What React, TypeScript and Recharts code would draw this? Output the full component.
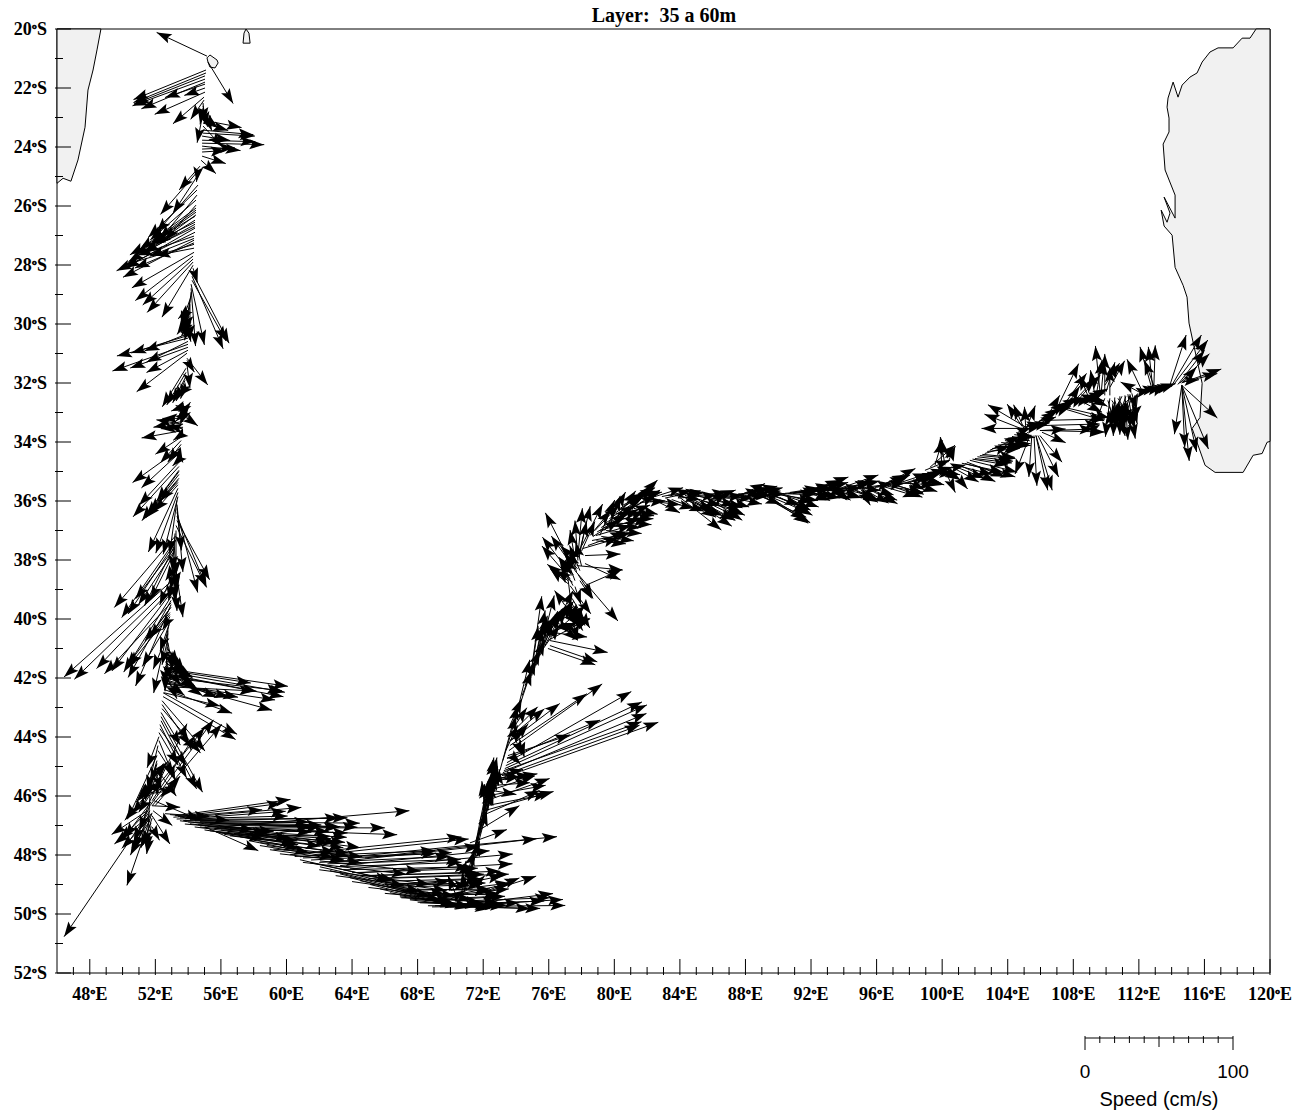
import { ScatterChart, Scatter, XAxis, YAxis } from "recharts";

// [lon E, lat S, u east cm/s, v north cm/s]
type Vec = [number, number, number, number];

const lonTicks = Array.from({ length: 74 }, (_, i) => 47 + i);
const latTicks = Array.from({ length: 33 }, (_, i) => 20 + i);
const speedTicks = [0, 10, 20, 30, 40, 50, 60, 70, 80, 90, 100];

const westCoast = [[48.68, 20], [48.44, 20.71], [48.2, 21.39], [47.89, 22.07], [47.71, 23.33], [47.28, 24.44], [46.85, 25.16], [46.37, 25.06], [46, 25.23], [46, 20], [48.68, 20]];
const islet = [[57.35, 20.48], [57.78, 20.48], [57.71, 20.14], [57.53, 20], [57.41, 20.14], [57.35, 20.48]];
const reunion = [[55.15, 20.98], [55.33, 20.88], [55.76, 21.05], [55.83, 21.15], [55.64, 21.32], [55.33, 21.29], [55.21, 21.12], [55.15, 20.98]];
const eastCoast = [[119.15, 20], [118.78, 20.31], [118.3, 20.31], [117.75, 20.64], [116.83, 20.64], [116.34, 20.78], [115.86, 21.12], [115.55, 21.49], [115.12, 21.63], [114.64, 21.9], [114.39, 22.31], [114.09, 21.8], [113.78, 22.34], [113.72, 22.65], [113.84, 23.02], [113.84, 23.49], [113.48, 23.9], [113.6, 24.78], [114.21, 25.63], [114.21, 26.41], [113.54, 25.7], [113.9, 26.24], [113.72, 26.55], [113.36, 26.14], [113.54, 26.68], [114.03, 26.99], [114.21, 28.08], [114.7, 28.69], [114.94, 29.09], [115.06, 29.97], [115.31, 30.62], [115.86, 32.01], [115.73, 33.17], [115.25, 33.54], [116.04, 34.79], [116.65, 35.03], [118.36, 35.03], [118.97, 34.45], [119.52, 34.39], [119.82, 34.01], [120, 33.98], [120, 20], [119.15, 20]];

const leg22S: Vec[] = [
  [55.15, 20.92, -34, 16], [55.21, 21.12, 17, -28], [55.09, 21.39, -49, -20], [55.09, 21.49, -49, -20],
  [55.03, 21.59, -48, -19], [55.03, 21.7, -49, -18], [55.03, 21.8, -43, -18], [55.03, 21.87, -27, -9],
  [55.03, 22, -14, -5], [55.03, 22.14, -34, -15], [54.97, 22.31, -21, -18], [54.97, 22.41, -9, -13],
];
const leg24S: Vec[] = [
  [54.91, 22.51, 1, -13], [54.91, 22.61, 3, -14], [54.91, 22.68, -2, -11], [54.91, 22.75, 6, -14],
  [54.91, 22.85, -4, -20], [54.91, 22.95, 10, -8], [54.91, 23.09, 26, -5], [54.91, 23.19, 17, -5],
  [54.91, 23.29, 13, -14], [54.91, 23.43, 34, -3], [54.91, 23.53, 35, -2], [54.85, 23.63, 19, -3],
  [54.85, 23.77, 36, -1], [54.85, 23.87, 42, -1], [54.85, 23.97, 26, -3], [54.85, 24.07, 22, 1],
  [54.85, 24.17, 16, 1], [54.85, 24.31, 16, -5], [54.79, 24.45, 10, -9],
];
const leg27S: Vec[] = [
  [54.72, 24.65, -14, -16], [54.66, 24.78, -26, -30], [54.6, 24.95, -17, -26], [54.6, 24.78, -1, -8],
  [54.6, 25.29, -28, -32], [54.54, 25.46, -33, -32], [54.54, 25.63, -25, -30], [54.48, 25.8, -31, -27],
  [54.48, 25.97, -21, -24], [54.48, 26.07, -38, -28], [54.48, 26.21, -41, -29], [54.42, 26.35, -44, -26],
  [54.42, 26.48, -45, -28], [54.42, 26.62, -34, -19], [54.42, 26.75, -47, -27], [54.42, 26.89, -53, -26],
  [54.36, 27.02, -38, -13], [54.36, 27.16, -48, -25], [54.36, 27.3, -47, -14], [54.36, 27.43, -26, -5],
  [54.36, 27.57, -42, -24], [54.3, 27.7, -39, -30], [54.3, 27.8, -34, -31], [54.3, 27.9, -31, -34],
  [54.3, 28.01, -21, -35], [54.3, 28.11, 3, -10], [54.42, 26.55, -30, -15], [54.42, 26.7, -35, -17],
  [54.36, 27.1, -30, -12], [54.36, 27.25, -40, -17], [54.48, 26.3, -27, -20], [54.48, 26.14, -30, -22],
];
const leg30S: Vec[] = [
  [54.24, 28.24, 25, -48], [54.24, 28.38, 21, -49], [54.24, 28.52, 23, -41], [54.18, 28.65, 9, -41],
  [54.18, 28.79, 3, -39], [54.18, 28.92, -3, -26], [54.18, 29.06, -7, -20], [54.11, 29.2, -4, -24],
  [54.11, 29.33, 0, -24], [54.11, 29.47, -8, -7], [54.05, 30.31, -30, -12], [54.05, 30.38, -39, -12],
  [53.99, 30.48, -48, -12], [53.99, 30.59, -28, -14], [53.99, 30.69, -51, -18], [53.99, 30.79, -39, -14],
  [53.99, 30.89, -28, -15], [53.93, 30.99, -34, -26], [54.11, 29.6, -6, -14], [54.05, 29.75, -8, -12],
  [54.05, 29.9, -5, -10], [54.05, 30.05, -3, -10], [53.99, 30.2, 2, -8],
];
const leg33S: Vec[] = [
  [53.93, 31.16, 14, -18], [53.93, 31.23, 5, -8], [53.93, 31.37, 2, -16], [53.87, 31.5, -16, -26],
  [53.87, 31.64, -13, -22], [53.87, 31.77, -9, -18], [53.81, 31.91, -6, -14], [53.81, 32.08, -3, -9],
  [53.75, 32.25, -4, -4], [53.69, 32.86, -5, 2], [53.69, 32.93, 0, 5], [53.69, 33, 5, 7],
  [53.69, 33.1, 10, -7], [53.69, 33.2, -14, 0], [53.69, 33.3, -20, -4], [53.69, 33.4, -18, 3],
  [53.69, 33.5, -15, -1], [53.69, 33.61, -28, -5], [53.63, 33.74, -6, -4], [53.63, 33.81, -18, -12],
  [53.69, 33.05, -5, -5], [53.69, 33.15, 5, 3], [53.63, 33.55, -10, 2], [53.69, 32.8, -8, -3],
];
const leg35S: Vec[] = [
  [53.57, 33.95, -14, -15], [53.57, 34.08, -9, -12], [53.5, 34.22, -32, -23], [53.5, 34.35, -26, -24],
  [53.5, 34.49, 2, -4], [53.5, 34.56, -5, -5], [53.44, 34.69, -27, -29], [53.44, 34.83, -31, -34],
  [53.44, 34.96, -25, -34], [53.44, 35.1, -22, -28], [53.44, 35.23, -20, -23], [53.38, 35.37, -22, -24],
  [53.38, 35.57, -20, -43], [53.38, 35.71, -15, -41], [53.38, 35.85, -10, -39], [53.32, 35.98, -5, -36],
  [53.32, 36.12, 3, -31], [53.32, 36.25, 4, -43], [53.32, 36.39, 14, -54], [53.32, 36.52, 20, -48],
  [53.32, 36.66, 22, -40], [53.26, 36.83, 20, -41], [53.44, 35, -15, -20], [53.38, 35.3, -12, -14],
  [53.38, 35.45, -16, -18],
];
const leg39S: Vec[] = [
  [53.2, 37.2, -41, -48], [53.2, 37.34, -36, -52], [53.14, 37.47, -31, -47], [53.14, 37.61, -26, -34],
  [53.14, 37.75, -16, -32], [53.14, 37.88, 6, -41], [53.14, 38.02, 2, -34], [53.08, 38.15, 3, -18],
  [53.08, 38.29, -5, -8], [53.08, 38.42, -9, -22], [53.08, 38.56, -3, -16], [53.26, 37, 0, -30],
  [53.2, 37.1, -2, -25], [53.14, 37.4, 2, -30], [53.14, 37.9, -2, -22], [53.08, 38.1, 1, -25],
  [53.08, 38.35, 2, -20], [53.14, 37.55, -20, -40], [53.14, 37.7, -24, -36],
];
const leg41S: Vec[] = [
  [53.02, 38.7, -73, -65], [53.02, 38.83, -66, -64], [53.02, 38.97, -51, -54], [52.96, 39.1, -40, -53],
  [52.96, 39.24, -32, -51], [52.96, 39.37, -29, -52], [52.96, 39.51, -24, -55], [52.89, 39.65, -17, -22],
  [52.89, 39.78, -14, -17], [52.89, 39.92, -5, -9], [52.89, 40.05, -11, -49], [52.83, 40.19, -6, -18],
  [52.77, 40.39, -2, -41], [52.96, 39.6, -30, -40], [52.96, 39.45, -45, -48], [52.89, 39.85, -28, -35],
  [52.83, 40.1, -18, -30], [52.77, 40.5, -10, -24], [52.77, 40.65, -4, -18], [52.77, 40.8, 3, -18],
];
const leg42S: Vec[] = [
  [52.59, 41.68, 83, -12], [52.59, 41.78, 81, -14], [52.59, 41.88, 80, -15], [52.59, 41.98, 79, -9],
  [52.53, 42.09, 73, -20], [52.53, 42.19, 75, -11], [52.53, 42.29, 61, -3], [52.53, 42.39, 46, -16],
  [52.53, 42.5, 38, -9], [52.59, 41.72, 58, -9], [52.59, 41.85, 62, -12], [52.53, 42.15, 50, -10],
  [52.59, 41.3, 12, -12], [52.6, 41.45, 18, -14], [52.59, 41.6, 22, -16], [52.53, 41.7, 26, -18],
  [52.53, 41.95, 36, -14], [52.53, 42.05, 44, -12], [52.71, 41, 12, -16], [52.71, 41.14, 7, -9],
  [52.65, 41.27, 3, -16], [52.59, 41.68, 0, -11], [52.59, 41.82, 20, -9], [52.53, 42.09, 14, -10],
  [52.71, 40.95, 8, -12], [52.71, 41.2, 12, -10], [52.65, 41.4, 18, -12], [52.65, 41.5, 14, -8],
  [52.65, 41.55, 10, -14], [52.65, 41.65, 18, -6], [52.59, 41.8, 8, -18],
];
const leg45S: Vec[] = [
  [52.47, 42.5, 50, -28], [52.47, 42.63, 49, -29], [52.41, 42.77, 29, -34], [52.41, 42.9, 19, -28],
  [52.41, 43.04, 26, -30], [52.35, 43.17, 13, -22], [52.35, 43.31, 28, -51], [52.35, 43.45, 24, -46],
  [52.28, 43.58, 18, -36], [52.28, 43.72, 18, -25], [52.22, 43.85, 13, -22], [52.22, 43.99, -8, -21],
  [52.22, 44.12, 11, -27], [52.16, 44.29, -7, -30], [52.16, 44.46, 11, -17], [52.1, 44.63, -20, -43],
  [52.1, 44.8, -8, -27], [51.67, 46.33, 43, 58], [51.8, 46.33, 47, 55], [51.67, 46.16, 25, 52],
  [51.67, 45.99, 37, 46], [51.8, 46.16, 29, 44], [51.92, 46.16, 31, -13], [51.98, 46.33, 17, 20],
];
const leg47S: Vec[] = [
  [51.67, 46.5, -58, -85], [51.8, 46.57, -17, -49], [51.67, 46.67, -24, -19], [51.67, 46.77, -19, -20],
  [51.67, 46.84, -12, -18], [51.74, 46.91, -7, -17], [51.74, 47.01, -3, -19], [51.8, 47.05, 5, -9],
  [51.8, 46.67, 12, -19], [51.86, 46.5, 13, -10], [51.8, 46.33, 19, -1], [51.67, 45.82, -17, -20],
  [51.67, 46.16, -7, -20], [51.55, 46.5, -19, -20], [51.67, 46.33, -11, -24], [51.67, 45.99, -2, -37],
  [52.1, 44.9, -6, -22], [52.04, 45.1, -8, -20], [51.98, 45.3, -10, -16], [51.92, 45.5, -12, -14],
  [51.86, 45.7, -14, -18], [51.8, 45.85, -9, -14], [51.8, 45.95, 6, 10], [51.86, 45.6, 7, 14],
  [51.92, 45.35, 9, 10], [51.98, 45.1, 4, -14], [51.74, 46.2, -18, -24], [51.74, 46.6, -14, -28],
  [51.62, 46.6, -10, -24], [51.8, 46.75, -6, -18], [51.5, 46.5, -24, -16], [52.04, 44.95, -3, -12],
  [52.1, 45.1, 13, -18], [51.92, 45.9, 14, 2],
];
const legEast60: Vec[] = [
  [52.59, 46.6, 30, -2], [52.89, 46.63, 40, -4], [53.2, 46.67, 78, 11], [53.38, 46.7, 70, 9],
  [53.5, 46.74, 82, 7], [53.5, 46.84, 50, -6], [53.81, 46.77, 68, 5], [54.11, 46.8, 101, 1],
  [54.11, 46.94, 52, -7], [54.42, 46.84, 103, 2], [54.72, 46.87, 108, -1], [54.72, 47.05, 47, -4],
  [55.03, 46.91, 103, -3], [55.03, 47.05, 36, -16], [55.33, 46.94, 88, -2], [55.33, 47.18, 54, -5],
  [55.94, 47.05, 128, 11], [55.94, 47.25, 68, -9], [56.25, 47.08, 108, 0], [56.55, 47.11, 113, -4],
  [56.55, 47.35, 44, -5], [57.16, 47.18, 66, -8], [57.16, 47.38, 40, -8], [57.47, 47.25, 78, -10],
  [57.77, 47.31, 54, -1], [57.77, 47.52, 40, -8], [58.08, 47.38, 44, 7], [58.38, 47.68, 50, -8],
  [58.99, 47.82, 50, -7], [59.6, 47.96, 55, -6], [53.1, 46.72, 60, 5], [53.3, 46.78, 75, 2],
  [53.7, 46.83, 85, -1], [54, 46.88, 90, -2], [54.3, 46.9, 80, -3], [54.6, 46.97, 95, -2],
  [54.9, 47, 85, -4], [55.2, 47.03, 70, -4], [55.6, 47.1, 90, -3], [56, 47.15, 85, -5],
  [56.4, 47.2, 70, -5], [56.8, 47.27, 75, -6], [57.2, 47.3, 60, -6], [57.6, 47.4, 65, -7],
  [58, 47.5, 55, -8], [58.4, 47.58, 60, -7], [58.8, 47.68, 55, -7], [59.2, 47.8, 60, -5],
  [53.8, 46.95, 60, -5], [54.4, 47.05, 65, -8], [55, 47.15, 40, -6], [55.7, 47.22, 55, -6],
  [56.2, 47.3, 50, -7],
];
const legEast66: Vec[] = [
  [60.2, 47.99, 116, 12], [60.82, 48.06, 114, 12], [64.49, 48.03, 133, 13], [64.79, 48.1, 116, 13],
  [62.65, 48.26, 101, 11], [63.27, 48.36, 101, 10], [63.87, 48.47, 110, 10], [64.49, 48.6, 103, 6],
  [65.1, 48.7, 88, 3], [65.71, 48.8, 87, 3], [62.04, 48.2, 68, -7], [66.01, 48.94, 57, -2],
  [66.31, 49, 61, 4], [66.62, 49.08, 37, 4], [66.92, 49.15, 61, -1], [67.23, 49.21, 27, -2],
  [71.8, 49.32, 38, 12], [71.5, 49.38, 30, 12], [70.58, 49.32, 34, 7], [60.82, 48.16, 61, -14],
  [61.43, 48.26, 57, -12], [62.04, 48.4, 57, -13], [62.65, 48.53, 61, -14], [63.27, 48.64, 61, -15],
  [63.87, 48.77, 61, -15], [64.49, 48.87, 61, -14], [65.1, 49, 57, -14], [65.71, 49.15, 54, -12],
  [66.31, 49.28, 54, -10], [66.92, 49.42, 54, -6], [67.53, 49.52, 54, -6], [68.14, 49.62, 54, -2],
  [68.63, 49.72, 52, 0], [60.5, 48.05, 95, 4], [61, 48.1, 90, 3], [61.5, 48.17, 95, 5],
  [62, 48.25, 88, 4], [62.5, 48.3, 90, 3], [63, 48.4, 85, 3], [63.5, 48.5, 85, 2],
  [64, 48.6, 85, 3], [64.5, 48.7, 80, 2], [65, 48.8, 78, 3], [65.5, 48.9, 70, 2],
  [66, 49, 68, 1], [66.5, 49.1, 60, 2], [67, 49.2, 60, 1], [67.5, 49.3, 60, -1],
  [68, 49.4, 55, 2], [68.5, 49.5, 50, 2], [69, 49.55, 48, 3], [69.5, 49.4, 45, 5],
  [70, 49.2, 40, 5], [70.5, 49, 30, 6], [61, 48.25, 70, -8], [62, 48.5, 75, -10],
  [63, 48.7, 75, -10], [64, 48.9, 70, -10], [65, 49.1, 70, -8], [66, 49.3, 65, -6],
  [67, 49.45, 65, -3], [68, 49.6, 60, -2],
];
const legCorner: Vec[] = [
  [68.88, 49.76, 90, 1], [69.37, 49.76, 83, 5], [69.67, 49.76, 73, 9], [69.97, 49.76, 61, -1],
  [69.06, 49.72, 57, 2], [70.28, 49.72, 51, -2], [70.58, 49.66, 57, 2], [71.19, 49.55, 54, 2],
  [67.53, 49.49, 54, -5], [66.92, 49.38, 47, -7], [66.62, 49.21, 37, -7], [70, 49.5, 10, 6],
  [70.3, 49.3, -5, 12], [70.6, 49.1, 4, 18], [70.9, 49.3, -2, 14], [71.2, 49.2, 10, 10],
];
const legNorth46: Vec[] = [
  [70.46, 49.66, 11, 36], [70.7, 49.49, 12, 39], [70.95, 49.22, 14, 54], [71.07, 48.87, 15, 61],
  [71.19, 48.53, 14, 61], [71.31, 48.2, 14, 57], [71.43, 47.86, 12, 44], [71.55, 47.52, 12, 34],
  [71.68, 47.18, 28, 17], [71.8, 46.84, 10, 30], [71.92, 46.67, 39, 17], [71.19, 47.59, 25, 9],
  [72.05, 46.5, 47, 13], [72.17, 46.33, 42, 8], [72.17, 46.16, 43, 15], [72.29, 45.99, 39, 7],
  [72.35, 45.82, 31, 10], [72.41, 45.65, 27, 2], [72.53, 45.48, 19, 3], [72.41, 46.16, 4, 22],
  [72.72, 45.82, -2, 13], [72.91, 45.65, 1, 11], [72.29, 46.5, 3, 27], [72.11, 46.84, 5, 30],
  [72.53, 46.33, -1, 15], [71.4, 48, 10, 50], [71.6, 47.7, 10, 45], [71.8, 47.3, 11, 40],
  [72, 47, 10, 38], [72.1, 46.7, 8, 34], [72.2, 46.2, 5, 30], [72.3, 46, 6, 26],
  [72.4, 45.9, 2, 22], [72.6, 45.7, 3, 14], [72.1, 46.4, -2, 18], [72, 46.6, 1, 20],
  [72.6, 45.5, 30, 5], [72.7, 45.4, 24, 2], [72.8, 45.3, 18, 4], [72.9, 45.25, 15, -3],
  [72.4, 45.8, 18, -3],
];
const legNorth44: Vec[] = [
  [73.02, 45.41, 107, 38], [73.14, 45.31, 93, 34], [73.2, 45.21, 97, 40], [73.26, 45.14, 93, 33],
  [73.32, 45.07, 96, 43], [73.38, 44.97, 92, 43], [73.45, 44.87, 84, 48], [73.45, 44.73, 63, 26],
  [73.51, 44.63, 42, 14], [73.57, 44.46, 63, 45], [73.63, 44.29, 52, 35], [73.69, 44.12, 33, 25],
  [73.75, 43.95, 22, 18], [73.88, 43.78, 16, 16], [73.94, 43.61, 8, 12], [73.02, 45.14, 12, 44],
  [73.2, 44.8, 9, 30], [73.38, 44.46, 8, 17], [73.63, 44.12, 10, 7], [74.06, 43.78, 5, -18],
  [73.94, 43.44, 10, 41], [74.12, 43.11, 9, 27], [74.37, 42.6, 9, 24], [74.55, 42.26, 10, 24],
  [74.67, 42.09, 12, 27], [73.75, 44.63, 6, -6], [74, 44.12, 4, -10], [74.12, 43.95, 7, 8],
  [73.63, 43.61, 8, 18],
];
const legNorth40: Vec[] = [
  [74.85, 42.09, 8, 57], [74.97, 41.92, 9, 44], [75.1, 41.75, 9, 37], [75.22, 41.58, 9, 30],
  [75.34, 41.41, 11, 44], [75.46, 41.24, 12, 30], [75.58, 41.07, 12, 17], [75.77, 40.9, 19, 37],
  [75.95, 40.73, 28, 15], [76.07, 40.6, 24, 21], [76.26, 40.46, 23, -3], [76.07, 40.73, 39, -8],
  [76.07, 40.9, 32, -11], [75.95, 41, 32, -11], [76.99, 40.39, 17, 8], [77.17, 39.54, 10, -17],
  [77.3, 39.37, 3, -17], [76.99, 39.54, -7, 10], [77.3, 39.71, 5, -20], [76.38, 40.39, 15, 5],
  [76.68, 40.05, 14, 8], [76.38, 40.05, 10, -8], [76.68, 40.22, 12, -10], [77.3, 39.37, 10, -17],
  [77.42, 39.3, 12, -20], [77.17, 39.78, 13, -8], [77.05, 39.37, 8, -14], [74.9, 42, 5, 35],
  [75.05, 41.8, 6, 30], [75.2, 41.5, 6, 28], [75.3, 41.3, 8, 25], [75.5, 41.1, 8, 22],
  [75.7, 40.85, 10, 20], [75.85, 40.6, 10, 16], [76, 40.45, 12, 18], [76.2, 40.3, 10, 14],
  [76.4, 40.2, 8, 10], [76.6, 40.1, 9, 12], [76.8, 39.9, 8, 10], [76.95, 39.7, 9, -10],
  [77.1, 39.6, 10, -12], [77.2, 39.4, 8, -12], [77.3, 39.5, 6, -16],
];
const legNorth38: Vec[] = [
  [77.6, 38.36, 29, -34], [77.72, 38.19, 31, -3], [78.21, 38.12, 24, -11], [78.21, 38.87, 25, 11],
  [78.21, 37.85, 24, 1], [78.08, 37.61, 24, 7], [77.6, 38.36, -20, 39], [77.42, 38.53, -20, 26],
  [77.3, 38.63, -19, 22], [77.17, 38.7, -14, 11], [77.17, 38.8, -12, 10], [77.42, 38.19, -14, 20],
  [77.6, 38.02, -10, 10], [77.48, 38.87, -9, 17], [77.3, 39.2, -3, 24], [77.78, 37.85, 3, 32],
  [77.9, 37.68, 7, 30], [78.02, 37.51, 14, 28], [77.78, 38.02, -2, 27], [77.66, 38.19, -4, 24],
  [77.9, 38.36, -7, 17], [77.3, 38.87, 14, -19], [77.5, 38.5, -10, 12], [77.6, 38.7, -6, 16],
  [77.7, 38.4, -5, 14], [77.75, 38.3, -8, 10], [77.45, 38.75, -11, 8], [77.6, 38.9, 4, -12],
  [77.8, 38.5, 10, -16], [77.9, 38.7, 8, -12], [78, 38.2, -4, 16], [77.85, 37.9, 5, 24],
  [78, 37.7, 9, 20], [77.5, 38.2, -6, 8],
];
const legNorth36: Vec[] = [
  [78.39, 37.51, 25, 9], [78.64, 37.34, 26, 5], [78.88, 37.17, 24, 7], [79.12, 37, 27, 8],
  [79.37, 36.9, 30, 6], [79.61, 36.8, 25, 9], [79.85, 36.73, 18, 9], [80.1, 36.59, 23, 9],
  [80.34, 36.49, 24, 14], [79.73, 36.83, 7, 20], [79.12, 37.17, 10, 24], [79.42, 37, 14, 26],
  [80.04, 36.66, 14, 20], [80.65, 36.39, 22, 22], [80.96, 36.32, 14, 17], [81.26, 36.18, 17, 11],
  [81.57, 36.05, 17, 1], [81.87, 35.98, 24, -3], [78.52, 37.17, 14, 17], [78.82, 37, 16, 17],
  [78.7, 37.2, 18, 11], [78.95, 37.05, 20, 12], [79.2, 36.9, 20, 12], [79.45, 36.75, 20, 12],
  [79.7, 36.6, 22, 14], [79.95, 36.45, 20, 14], [80.2, 36.3, 20, 12], [80.5, 36.15, 22, 12],
  [80.8, 36.05, 22, 8], [81.1, 35.95, 20, 5], [78.9, 37.35, 20, -2], [79.2, 37.2, 22, -3],
  [79.5, 37, 24, -2], [79.8, 36.85, 20, -1], [80.1, 36.75, 24, -1], [80.4, 36.6, 22, 0],
  [80.8, 36.4, 18, -2], [81.2, 36.25, 16, -4],
];
const leg36SWest: Vec[] = [
  [82.48, 35.85, 19, 6], [82.9, 35.85, 20, 4], [83.27, 35.81, 25, 2], [83.7, 35.81, 17, -3],
  [84, 35.81, 22, -10], [84.31, 35.81, 24, -7], [84, 35.88, 28, -22], [84.61, 35.85, 25, 3],
  [84.92, 35.85, 14, -13], [85.22, 35.85, 24, -6], [85.53, 35.88, 27, -12], [85.83, 35.88, 22, -7],
  [86.14, 35.88, 14, 5], [86.44, 35.88, 5, 3], [86.75, 35.85, 24, 4], [87.05, 35.85, 32, 7],
  [87.36, 35.85, 24, 6], [87.66, 35.81, 17, 8], [87.97, 35.81, 24, 3], [88.27, 35.81, 14, 0],
  [85.22, 36, 24, -13], [84.61, 36, 22, -10], [85.83, 36.09, 20, -10], [82.2, 35.9, 20, -10],
  [82.7, 35.95, 24, -6], [83.1, 35.9, 24, 5], [83.5, 35.95, 22, -8], [83.9, 35.9, 26, 2],
  [84.4, 35.95, 20, -12], [84.8, 35.95, 28, -14], [85, 36.05, 24, -16], [85.4, 36, 26, -8],
  [85.7, 35.95, 24, 3], [86, 36, 20, -13], [86.3, 35.9, 24, 0], [86.6, 35.95, 18, -5],
  [86.9, 35.9, 26, 2], [87.2, 35.9, 20, -4], [87.5, 35.9, 22, 4], [87.8, 35.85, 28, 2],
  [88.1, 35.85, 24, 6], [88.4, 35.85, 22, 2], [88.7, 35.8, 16, -6],
];
const leg36SMid: Vec[] = [
  [88.88, 35.78, 34, -19], [89.19, 35.78, 29, -12], [89.49, 35.78, 20, -7], [89.8, 35.74, 27, -1],
  [90.1, 35.74, 22, -6], [90.41, 35.74, 24, 2], [90.71, 35.71, 20, 3], [91.02, 35.71, 24, 5],
  [91.32, 35.68, 24, -3], [91.63, 35.68, 17, -6], [91.93, 35.64, 26, 9], [92.24, 35.64, 17, 7],
  [92.54, 35.61, 17, -1], [92.85, 35.61, 24, 1], [93.15, 35.57, 14, -8], [93.46, 35.57, 8, -8],
  [89.49, 35.88, 24, -15], [90.1, 35.88, 22, -12], [90.71, 35.91, 14, -8], [89, 35.85, 30, -14],
  [89.3, 35.85, 28, -18], [89.6, 35.8, 26, -10], [89.9, 35.78, 28, -4], [90.3, 35.8, 24, -8],
  [90.6, 35.75, 20, 2], [90.9, 35.75, 26, 4], [91.2, 35.72, 22, -2], [91.5, 35.72, 26, 6],
  [91.8, 35.7, 22, -4], [92.1, 35.67, 24, 6], [92.4, 35.65, 20, 0], [92.7, 35.65, 26, 2],
  [93, 35.62, 22, -5], [93.3, 35.6, 20, -6],
];
const leg36SEast: Vec[] = [
  [93.76, 35.57, 26, 9], [94.07, 35.54, 17, 3], [94.37, 35.54, 19, -10], [94.68, 35.54, 17, -2],
  [94.98, 35.54, 7, -12], [95.29, 35.54, 22, -11], [95.59, 35.54, 16, -5], [95.9, 35.54, 20, 3],
  [96.2, 35.5, 24, 12], [96.51, 35.47, 17, 7], [96.81, 35.47, 22, -8], [97.12, 35.47, 19, -5],
  [97.42, 35.44, 20, 6], [97.73, 35.4, 20, -1], [98.03, 35.37, 10, -5], [98.34, 35.3, 15, 5],
  [98.64, 35.23, 14, -3], [98.95, 35.13, 14, 4], [99.25, 34.86, 17, 15], [99.56, 34.79, 5, 17],
  [98.95, 34.96, 17, 7], [99.25, 35.03, 24, 5], [99.56, 34.96, 17, -3], [99.86, 34.89, 14, -8],
  [93.6, 35.6, 24, 5], [93.9, 35.57, 22, -6], [94.2, 35.57, 22, 5], [94.5, 35.57, 18, -8],
  [94.8, 35.57, 24, 3], [95.1, 35.57, 18, -10], [95.45, 35.57, 20, -8], [95.75, 35.55, 22, 7],
  [96.05, 35.52, 20, 8], [96.35, 35.5, 24, -7], [96.65, 35.5, 24, -4], [96.95, 35.47, 24, 8],
  [97.25, 35.47, 18, -6], [97.55, 35.42, 22, 5], [97.9, 35.38, 20, -6], [98.2, 35.33, 20, 6],
  [98.5, 35.25, 18, -4], [98.8, 35.15, 20, 6], [99.1, 35.05, 18, 0],
];
const leg34S: Vec[] = [
  [100.17, 34.96, 7, -15], [100.47, 34.89, 12, -14], [100.78, 34.83, 20, -8], [101.08, 34.79, 24, -11],
  [101.39, 34.73, 34, -9], [101.69, 34.62, 32, -8], [102, 34.56, 25, -3], [102.3, 34.46, 24, -2],
  [102.6, 34.39, 17, 5], [102.91, 34.28, 20, 9], [103.22, 34.18, 20, 1], [100.17, 34.79, -3, 19],
  [100.35, 34.69, 5, 11], [99.98, 34.89, -1, 21], [103.83, 33.95, 15, -4], [104.26, 33.81, 12, -3],
  [104.62, 33.67, 9, 3], [100.6, 34.85, 18, -10], [100.9, 34.8, 24, -6], [101.2, 34.72, 28, -6],
  [101.5, 34.68, 26, -10], [101.85, 34.58, 24, -4], [102.15, 34.5, 24, -3], [102.45, 34.42, 22, -2],
  [102.75, 34.32, 22, 2], [103.05, 34.22, 22, 2], [103.4, 34.1, 22, 1], [103.6, 34.02, 20, -2],
  [104, 33.87, 16, 2], [104.4, 33.75, 14, -2], [104.8, 33.6, 14, 3], [105, 33.5, 12, 3],
];
const leg105E: Vec[] = [
  [105.23, 33.54, -27, 16], [105.11, 33.61, -28, 11], [105.11, 33.54, -30, 0], [104.87, 33.47, -10, 15],
  [104.99, 33.54, -7, 16], [105.11, 33.61, -1, 16], [105.05, 33.67, 7, 18], [105.35, 33.78, -10, -26],
  [105.47, 33.78, -2, -28], [105.6, 33.78, 2, -34], [105.72, 33.78, 8, -37], [105.72, 33.78, 11, -37],
  [105.84, 33.78, 14, -28], [105.96, 33.78, 15, -18], [106.09, 33.67, 16, -7], [106.09, 33.61, 16, 1],
  [105.23, 33.67, -16, -14], [105.3, 33.5, 14, 3], [105.5, 33.45, 16, 6], [105.7, 33.38, 14, 8],
  [105.9, 33.3, 14, 9], [106.1, 33.2, 16, 10],
];
const leg108E: Vec[] = [
  [106.27, 33.27, 10, 17], [106.57, 33.1, 14, 10], [106.88, 33, 16, 33], [107.18, 32.93, 18, 25],
  [107.49, 32.86, 10, 15], [107.8, 32.76, 17, 18], [108.1, 32.69, 17, 19], [109.62, 32.25, -3, 30],
  [109.92, 32.42, 0, 28], [110.23, 32.42, 0, 19], [110.23, 32.15, 10, 18], [109.92, 32.08, 10, 15],
  [109.32, 32.42, -3, 17], [109.01, 32.59, -7, 17], [105.96, 33.27, 44, 1], [106.27, 33.44, 37, 1],
  [105.96, 33.61, 44, -1], [106.57, 33.61, 30, 1], [107.18, 32.83, 30, -9], [107.49, 32.83, 30, -7],
  [108.4, 32.59, 15, -8], [109, 32.49, 12, -6], [106.4, 33.1, 16, 6], [106.7, 33, 14, 7],
  [107, 32.9, 14, 8], [107.3, 32.8, 16, 6], [107.65, 32.72, 16, 4], [107.95, 32.65, 16, 5],
  [108.25, 32.6, 14, 2], [108.6, 32.55, 14, 4], [108.8, 32.5, 12, -2], [109.2, 32.45, 10, 5],
  [109.4, 32.42, 4, 24], [109.7, 32.35, 2, 22], [110, 32.3, 6, 20],
];
const leg111E: Vec[] = [
  [109.92, 32.52, -10, -26], [110.23, 32.52, -3, -26], [110.53, 32.49, -1, -26], [110.84, 32.45, 0, -26],
  [111.15, 32.42, 2, -30], [111.33, 32.38, 5, -30], [111.45, 32.38, 5, -20], [111.57, 32.35, 3, -11],
  [110.11, 32.59, 5, -17], [110.35, 32.59, 9, -14], [110.72, 32.52, 8, -12], [110.97, 32.45, -8, -16],
  [111.21, 32.45, -7, -20], [111.45, 32.42, -7, -24], [110.84, 32.59, -10, -17], [111.15, 32.59, 7, -19],
  [111.45, 32.52, -12, -12], [110.53, 32.59, 7, -24], [111.76, 32.42, -3, -20], [111.94, 32.35, -2, -18],
  [110.4, 32.7, 3, -14], [110.6, 32.8, -4, -14], [110.9, 32.7, 4, -12], [111.1, 32.8, -3, -14],
  [111.3, 32.7, 2, -16], [110.2, 32.8, 6, -14], [111.5, 32.6, -5, -14], [110.7, 33, 5, -10],
];
const leg114E: Vec[] = [
  [112.18, 32.25, -10, 21], [112.06, 32.32, -13, 7], [112.79, 32.18, -8, 28], [112.85, 32.18, -3, 28],
  [112.91, 32.18, 1, 29], [112.97, 32.18, -7, 19], [113.28, 32.18, 4, 2], [113.58, 32.15, 5, 1],
  [113.89, 32.08, 11, 34], [114.01, 32.08, 20, 34], [114.13, 32.05, 23, 30], [114.38, 32.05, 18, 23],
  [114.5, 32.01, 20, 20], [114.62, 32.01, 10, 11], [114.68, 31.98, 26, 9], [114.62, 31.98, 24, 6],
  [114.68, 31.94, 11, 1], [114.62, 32.08, -5, -33], [114.62, 32.08, 2, -42], [114.62, 32.08, 5, -51],
  [114.62, 32.08, 10, -45], [114.62, 32.08, 18, -43], [114.62, 32.08, 24, -22], [112.3, 32.28, 5, 1],
  [112.6, 32.22, 6, 1], [113, 32.2, 5, 1], [113.4, 32.18, 5, 1], [113.7, 32.12, 6, 2],
];

const allVectors = [
  ...leg22S, ...leg24S, ...leg27S, ...leg30S, ...leg33S, ...leg35S, ...leg39S, ...leg41S, ...leg42S,
  ...leg45S, ...leg47S, ...legEast60, ...legEast66, ...legCorner, ...legNorth46, ...legNorth44,
  ...legNorth40, ...legNorth38, ...legNorth36, ...leg36SWest, ...leg36SMid, ...leg36SEast, ...leg34S,
  ...leg105E, ...leg108E, ...leg111E, ...leg114E,
];

// 100 cm/s is as long as 9.03 deg of longitude or 5.02 deg of latitude on this map
const LON_PER_CM = 0.0903;
const LAT_PER_CM = 0.0502;

// every vector gives two points, tail then tip
const vectorPoints = allVectors.flatMap(([lon, lat, u, v]) => [
  { lon, lat },
  { lon: lon + u * LON_PER_CM, lat: lat - v * LAT_PER_CM },
]);

const toPoints = (rows: number[][]) => rows.map(([lon, lat]) => ({ lon, lat }));

const serif = "'Liberation Serif', serif";
const sans = "'Liberation Sans', sans-serif";
const noDot = () => <g />;

function ArrowLines({ points }: { points: { x: number; y: number }[] }) {
  const arrows = [];
  for (let i = 0; i + 1 < points.length; i += 2) {
    const a = points[i];
    const b = points[i + 1];
    const len = Math.hypot(b.x - a.x, b.y - a.y) || 1;
    const ux = (b.x - a.x) / len;
    const uy = (b.y - a.y) / len;
    const bx = b.x - ux * 15;
    const by = b.y - uy * 15;
    const nx = b.x - ux * 12;
    const ny = b.y - uy * 12;
    const head = `${b.x},${b.y} ${bx - uy * 5},${by + ux * 5} ${nx},${ny} ${bx + uy * 5},${by - ux * 5}`;
    arrows.push(
      <g key={i}>
        <line x1={a.x} y1={a.y} x2={b.x} y2={b.y} stroke="#000" strokeWidth={1} />
        <polygon points={head} fill="#000" />
      </g>,
    );
  }
  return <g>{arrows}</g>;
}

function DegreeMark() {
  return (
    <tspan fontSize={13} dy={-2} stroke="#000" strokeWidth={0.7}>
      °
    </tspan>
  );
}

function BottomTick({ x, y, payload }: any) {
  const major = payload.value % 4 === 0;
  return (
    <g>
      <line x1={x} y1={y} x2={x} y2={y - (major ? 16 : 8)} stroke="#000" />
      {major && (
        <text x={x} y={y + 25} textAnchor="middle" fontFamily={serif} fontWeight="bold" fontSize={18} fill="#000">
          {payload.value}
          <DegreeMark />
          <tspan dy={2}>E</tspan>
        </text>
      )}
    </g>
  );
}

function TopTick({ x, y, payload }: any) {
  const major = payload.value % 4 === 0;
  return <line x1={x} y1={y} x2={x} y2={y + (major ? 16 : 8)} stroke="#000" />;
}

function LeftTick({ x, y, payload }: any) {
  const major = payload.value % 2 === 0;
  return (
    <g>
      <line x1={x} y1={y} x2={x + (major ? 16 : 8)} y2={y} stroke="#000" />
      {major && (
        <text x={x - 8} y={y + 6} textAnchor="end" fontFamily={serif} fontWeight="bold" fontSize={18} fill="#000">
          {payload.value}
          <DegreeMark />
          <tspan dy={2}>S</tspan>
        </text>
      )}
    </g>
  );
}

function RightTick({ x, y, payload }: any) {
  const major = payload.value % 2 === 0;
  return <line x1={x} y1={y} x2={x - (major ? 16 : 8)} y2={y} stroke="#000" />;
}

function SpeedTick({ x, y, payload }: any) {
  const ends = payload.value % 100 === 0;
  const length = ends ? 14 : payload.value === 50 ? 11 : 7;
  return (
    <g>
      <line x1={x} y1={y} x2={x} y2={y + length} stroke="#000" />
      {ends && (
        <text x={x} y={y + 42} textAnchor="middle" fontFamily={sans} fontSize={19} fill="#000">
          {payload.value}
        </text>
      )}
    </g>
  );
}

const landProps = { fill: "#f1f1f1", stroke: "#000", strokeWidth: 1 };

export default function App() {
  return (
    <div style={{ position: "absolute", left: 0, top: 0, width: 1312, height: 1118 }}>
      <div
        style={{
          position: "absolute",
          left: 0,
          width: 1328,
          top: 4,
          textAlign: "center",
          fontFamily: serif,
          fontWeight: "bold",
          fontSize: 20,
          whiteSpace: "pre",
        }}
      >
        {"Layer:  35 a 60m"}
      </div>
      <ScatterChart width={1312} height={1118} margin={{ top: 28, right: 41, bottom: 115, left: 0 }}>
        <XAxis
          type="number"
          dataKey="lon"
          domain={[46, 120]}
          ticks={lonTicks}
          interval={0}
          height={30}
          tickSize={0}
          tickLine={false}
          tick={BottomTick}
          stroke="#000"
        />
        <XAxis
          xAxisId="top"
          orientation="top"
          type="number"
          dataKey="lon"
          domain={[46, 120]}
          ticks={lonTicks}
          interval={0}
          height={1}
          tickSize={0}
          tickLine={false}
          tick={TopTick}
          stroke="#000"
        />
        <YAxis
          type="number"
          dataKey="lat"
          domain={[20, 52]}
          reversed
          ticks={latTicks}
          interval={0}
          width={57}
          tickSize={0}
          tickLine={false}
          tick={LeftTick}
          stroke="#000"
        />
        <YAxis
          yAxisId="right"
          orientation="right"
          type="number"
          dataKey="lat"
          domain={[20, 52]}
          reversed
          ticks={latTicks}
          interval={0}
          width={1}
          tickSize={0}
          tickLine={false}
          tick={RightTick}
          stroke="#000"
        />
        <Scatter data={toPoints(westCoast)} line={landProps} shape={noDot} isAnimationActive={false} />
        <Scatter data={toPoints(islet)} line={landProps} shape={noDot} isAnimationActive={false} />
        <Scatter data={toPoints(reunion)} line={landProps} shape={noDot} isAnimationActive={false} />
        <Scatter data={toPoints(eastCoast)} line={landProps} shape={noDot} isAnimationActive={false} />
        <Scatter data={vectorPoints} line={ArrowLines} shape={noDot} isAnimationActive={false} />
      </ScatterChart>
      <div style={{ position: "absolute", left: 1065, top: 1008 }}>
        <ScatterChart width={188} height={110} margin={{ top: 29, right: 20, bottom: 0, left: 20 }}>
          <XAxis
            orientation="top"
            type="number"
            dataKey="speed"
            domain={[0, 100]}
            ticks={speedTicks}
            interval={0}
            height={1}
            tickSize={0}
            tickLine={false}
            tick={SpeedTick}
            stroke="#000"
          />
          <YAxis type="number" dataKey="y" domain={[0, 1]} hide />
          <Scatter data={[{ speed: 0, y: 0 }, { speed: 100, y: 0 }]} shape={noDot} isAnimationActive={false} />
        </ScatterChart>
        <div
          style={{
            position: "absolute",
            left: 0,
            width: 188,
            top: 81,
            textAlign: "center",
            fontFamily: sans,
            fontSize: 20,
            lineHeight: "20px",
            whiteSpace: "pre",
          }}
        >
          Speed (cm/s)
        </div>
      </div>
    </div>
  );
}
